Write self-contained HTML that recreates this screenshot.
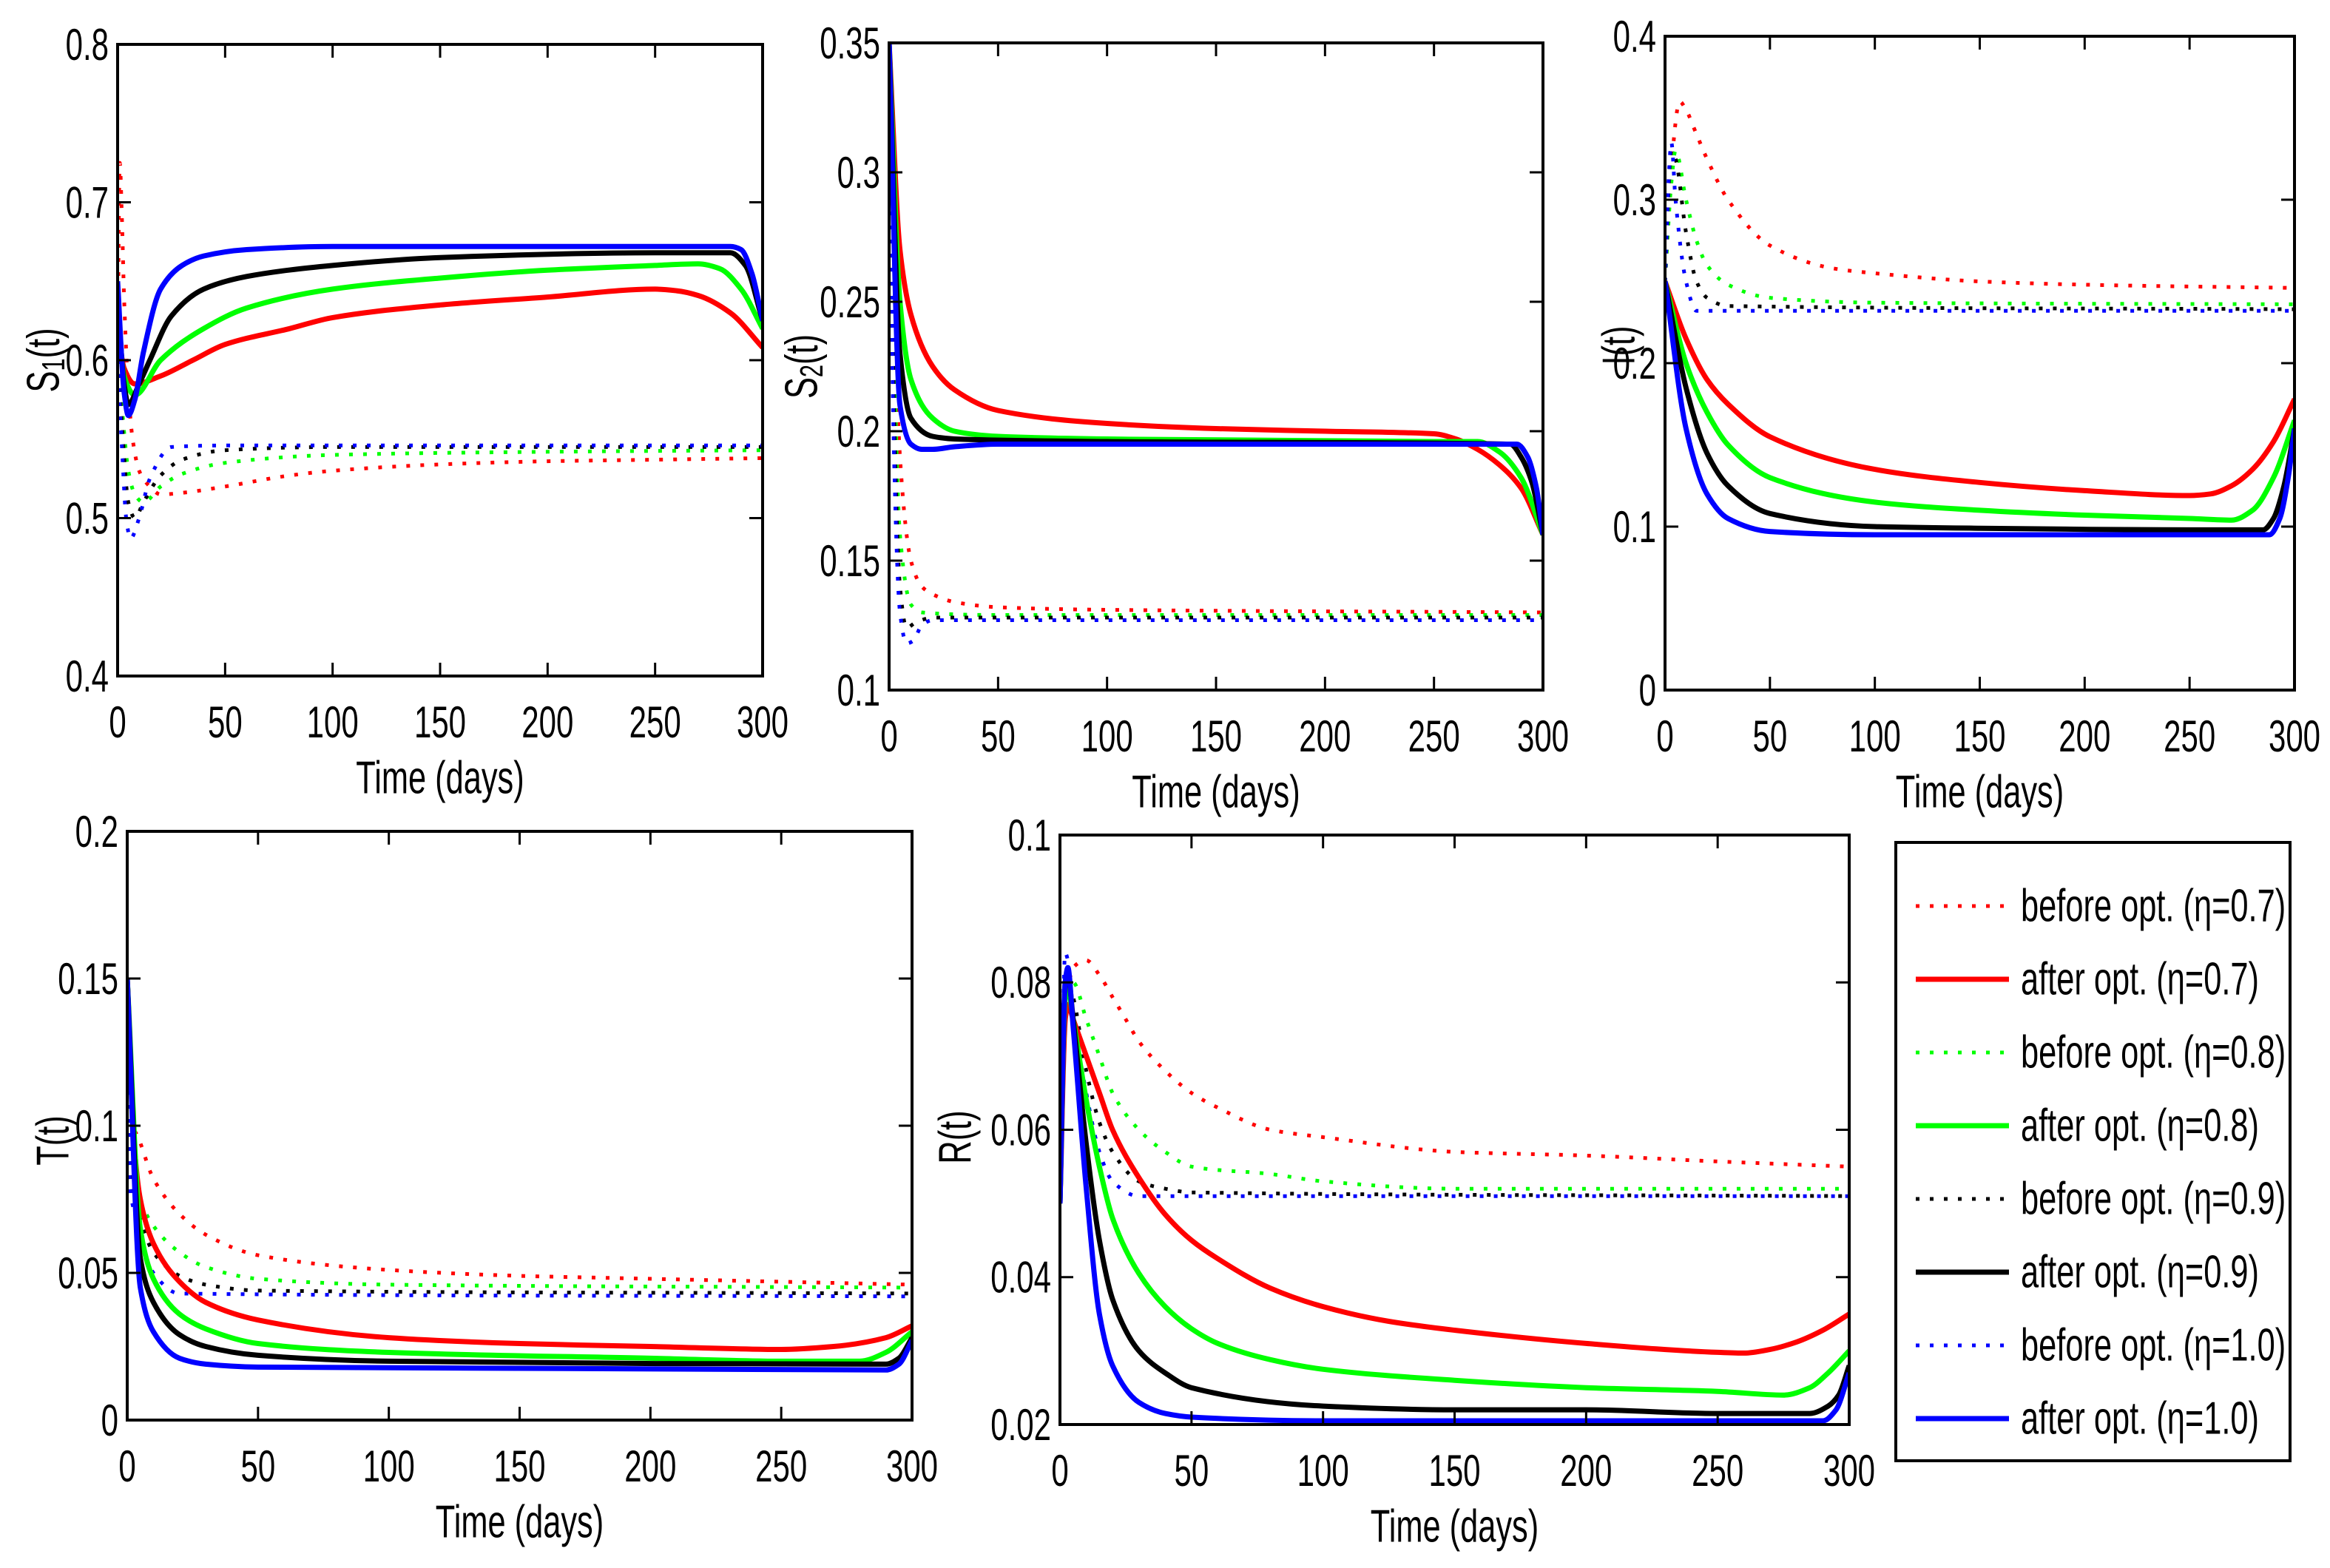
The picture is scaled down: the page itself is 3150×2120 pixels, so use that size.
<!DOCTYPE html>
<html><head><meta charset="utf-8"><style>
html,body{margin:0;padding:0;background:#fff;}
svg{display:block;}
text{font-family:"Liberation Sans",sans-serif;fill:#000;}
</style></head><body>
<svg id="fig" width="3150" height="2120" viewBox="0 0 3150 2120" xmlns="http://www.w3.org/2000/svg">
<rect width="3150" height="2120" fill="#fff"/>
<defs id="defs"></defs>
</svg>
<script>
// ---- data: [time, value] pairs ----
const xTicks=[0,50,100,150,200,250,300];
const s1Ticks=[0.4,0.5,0.6,0.7,0.8];
const s2Ticks=[0.1,0.15,0.2,0.25,0.3,0.35];
const iTicks=[0,0.1,0.2,0.3,0.4];
const tTicks=[0,0.05,0.1,0.15,0.2];
const rTicks=[0.02,0.04,0.06,0.08,0.1];

const s1RedBefore=[[0,0.6],[1,0.725],[2,0.69],[3,0.64],[5,0.58],[7,0.55],[10,0.53],[15,0.52],[20,0.515],[30,0.516],[50,0.52],[80,0.527],[100,0.53],[150,0.534],[200,0.536],[250,0.537],[300,0.538]];
const s1GreenBefore=[[0,0.6],[2,0.57],[5,0.53],[8,0.515],[12,0.51],[20,0.52],[30,0.528],[50,0.535],[100,0.54],[200,0.542],[300,0.543]];
const s1BlackBefore=[[0,0.6],[2,0.56],[5,0.51],[8,0.5],[12,0.51],[20,0.527],[30,0.537],[50,0.543],[100,0.545],[300,0.545]];
const s1BlueBefore=[[0,0.6],[2,0.545],[4,0.5],[6,0.487],[10,0.5],[15,0.525],[25,0.545],[50,0.546],[300,0.546]];
const s1RedAfter=[[0,0.62],[3,0.595],[8,0.585],[20,0.59],[35,0.6],[50,0.61],[80,0.62],[100,0.627],[150,0.635],[200,0.64],[250,0.645],[260,0.644],[270,0.641],[285,0.63],[300,0.608]];
const s1GreenAfter=[[0,0.63],[3,0.59],[8,0.578],[20,0.6],[40,0.62],[60,0.633],[100,0.645],[150,0.652],[200,0.657],[250,0.66],[270,0.661],[280,0.658],[290,0.645],[300,0.62]];
const s1BlackAfter=[[0,0.64],[3,0.585],[5,0.572],[10,0.585],[15,0.6],[25,0.628],[40,0.645],[60,0.653],[100,0.66],[150,0.665],[250,0.668],[285,0.668],[292,0.66],[300,0.625]];
const s1BlueAfter=[[0,0.65],[3,0.58],[5,0.565],[8,0.575],[12,0.605],[20,0.645],[30,0.66],[40,0.666],[60,0.67],[100,0.672],[285,0.672],[290,0.67],[295,0.655],[300,0.625]];

const s2RedBefore=[[0,0.35],[2,0.27],[5,0.19],[10,0.15],[15,0.14],[20,0.137],[30,0.134],[50,0.132],[100,0.131],[300,0.13]];
const s2GreenBefore=[[0,0.35],[2,0.24],[5,0.16],[10,0.133],[15,0.13],[50,0.129],[300,0.129]];
const s2BlackBefore=[[0,0.35],[2,0.22],[5,0.14],[8,0.124],[12,0.126],[20,0.128],[300,0.128]];
const s2BlueBefore=[[0,0.35],[2,0.2],[5,0.13],[8,0.118],[11,0.119],[15,0.125],[20,0.127],[300,0.127]];
const s2RedAfter=[[0,0.35],[5,0.27],[10,0.245],[20,0.225],[30,0.216],[50,0.208],[100,0.203],[150,0.201],[200,0.2],[250,0.199],[260,0.197],[270,0.193],[280,0.187],[290,0.178],[300,0.16]];
const s2GreenAfter=[[0,0.35],[5,0.25],[10,0.22],[20,0.205],[30,0.2],[50,0.198],[100,0.197],[250,0.196],[270,0.196],[280,0.192],[290,0.182],[300,0.16]];
const s2BlackAfter=[[0,0.35],[5,0.23],[10,0.205],[20,0.198],[30,0.197],[100,0.196],[285,0.195],[290,0.19],[295,0.18],[300,0.16]];
const s2BlueAfter=[[0,0.35],[5,0.21],[10,0.195],[15,0.193],[20,0.193],[30,0.194],[50,0.195],[288,0.195],[293,0.19],[297,0.178],[300,0.16]];

const iRedBefore=[[0,0.25],[3,0.32],[7,0.36],[10,0.355],[15,0.34],[20,0.325],[30,0.3],[50,0.272],[80,0.258],[100,0.255],[150,0.25],[200,0.248],[300,0.246]];
const iGreenBefore=[[0,0.25],[3,0.31],[5,0.33],[10,0.3],[15,0.275],[20,0.26],[30,0.248],[50,0.24],[100,0.237],[300,0.236]];
const iBlackBefore=[[0,0.25],[3,0.33],[5,0.325],[10,0.28],[15,0.25],[20,0.24],[30,0.235],[300,0.233]];
const iBlueBefore=[[0,0.25],[2,0.32],[3,0.335],[5,0.3],[10,0.25],[15,0.232],[300,0.232]];
const iRedAfter=[[0,0.25],[10,0.215],[20,0.19],[30,0.175],[50,0.155],[100,0.135],[150,0.127],[200,0.122],[250,0.119],[260,0.12],[270,0.125],[280,0.135],[290,0.152],[300,0.178]];
const iGreenAfter=[[0,0.25],[10,0.2],[20,0.17],[30,0.15],[50,0.13],[100,0.115],[150,0.11],[200,0.107],[250,0.105],[270,0.104],[280,0.11],[290,0.13],[300,0.165]];
const iBlackAfter=[[0,0.25],[10,0.185],[20,0.145],[30,0.125],[50,0.108],[100,0.1],[150,0.099],[250,0.098],[285,0.098],[290,0.105],[295,0.125],[300,0.16]];
const iBlueAfter=[[0,0.25],[10,0.16],[20,0.12],[30,0.105],[50,0.097],[100,0.095],[288,0.095],[293,0.105],[297,0.13],[300,0.16]];

const tRedBefore=[[0,0.15],[1,0.1],[3,0.098],[10,0.082],[20,0.07],[30,0.063],[50,0.056],[100,0.051],[150,0.049],[200,0.048],[300,0.046]];
const tGreenBefore=[[0,0.15],[1,0.09],[3,0.08],[10,0.066],[20,0.057],[30,0.052],[50,0.048],[100,0.046],[300,0.045]];
const tBlackBefore=[[0,0.15],[1,0.085],[3,0.075],[10,0.057],[20,0.049],[30,0.046],[50,0.044],[300,0.043]];
const tBlueBefore=[[0,0.15],[1,0.08],[3,0.07],[10,0.05],[20,0.043],[300,0.042]];
const tRedAfter=[[0,0.15],[3,0.09],[5,0.075],[10,0.06],[20,0.047],[30,0.04],[50,0.034],[100,0.028],[150,0.026],[200,0.025],[250,0.024],[270,0.025],[290,0.028],[300,0.032]];
const tGreenAfter=[[0,0.15],[5,0.065],[10,0.048],[20,0.036],[30,0.031],[50,0.026],[100,0.023],[200,0.021],[250,0.02],[280,0.02],[290,0.023],[300,0.03]];
const tBlackAfter=[[0,0.15],[5,0.055],[10,0.04],[20,0.029],[30,0.025],[50,0.022],[100,0.02],[290,0.019],[295,0.021],[300,0.028]];
const tBlueAfter=[[0,0.15],[5,0.045],[10,0.03],[20,0.021],[30,0.019],[50,0.018],[290,0.017],[295,0.019],[300,0.027]];

const rRedBefore=[[0,0.05],[2,0.075],[5,0.082],[10,0.083],[15,0.081],[20,0.078],[25,0.075],[30,0.072],[40,0.068],[50,0.065],[60,0.063],[80,0.06],[100,0.059],[150,0.057],[200,0.0565],[250,0.0557],[300,0.055]];
const rGreenBefore=[[0,0.05],[2,0.075],[3,0.079],[5,0.08],[10,0.075],[15,0.07],[20,0.065],[30,0.06],[40,0.057],[50,0.055],[80,0.054],[100,0.053],[150,0.052],[300,0.052]];
const rBlackBefore=[[0,0.05],[2,0.077],[3,0.08],[5,0.078],[10,0.068],[15,0.061],[20,0.057],[30,0.053],[40,0.052],[50,0.0515],[300,0.051]];
const rBlueBefore=[[0,0.05],[2,0.084],[3,0.083],[5,0.076],[10,0.065],[15,0.057],[20,0.053],[30,0.051],[300,0.051]];
const rRedAfter=[[0,0.05],[2,0.075],[3,0.077],[5,0.075],[10,0.07],[15,0.065],[20,0.06],[30,0.0535],[40,0.0485],[50,0.045],[60,0.0425],[80,0.0385],[100,0.036],[125,0.034],[150,0.0328],[200,0.031],[250,0.0298],[260,0.0297],[270,0.0302],[280,0.0312],[290,0.0328],[300,0.035]];
const rGreenAfter=[[0,0.05],[2,0.078],[3,0.079],[5,0.075],[10,0.064],[15,0.055],[20,0.048],[30,0.0405],[40,0.036],[50,0.033],[60,0.031],[80,0.0288],[100,0.0275],[150,0.026],[200,0.025],[250,0.0245],[275,0.024],[285,0.025],[292,0.027],[300,0.03]];
const rBlackAfter=[[0,0.05],[2,0.08],[3,0.081],[5,0.075],[10,0.058],[15,0.045],[20,0.037],[30,0.03],[40,0.027],[50,0.025],[100,0.0225],[150,0.022],[200,0.022],[250,0.0215],[285,0.0215],[292,0.0225],[296,0.024],[300,0.028]];
const rBlueAfter=[[0,0.05],[2,0.08],[3,0.082],[5,0.074],[10,0.052],[15,0.035],[20,0.028],[30,0.023],[40,0.0215],[50,0.021],[100,0.0205],[290,0.0205],[295,0.022],[300,0.027]];

const legendLabels=["before opt. (η=0.7)","after opt. (η=0.7)","before opt. (η=0.8)","after opt. (η=0.8)","before opt. (η=0.9)","after opt. (η=0.9)","before opt. (η=1.0)","after opt. (η=1.0)"];

// ---- rendering ----
const NS="http://www.w3.org/2000/svg";
const svg=document.getElementById('fig');
const defs=document.getElementById('defs');
const COLORS={red:"#ff0000",green:"#00ff00",black:"#000000",blue:"#0000ff"};
const SX=0.7;

function mk(tag,attrs,parent){const e=document.createElementNS(NS,tag);for(const k in attrs)e.setAttribute(k,attrs[k]);(parent||svg).appendChild(e);return e;}
function txt(str,x,y,size,anchor,rot,parent){
  const t=mk('text',{x:0,y:0,'font-size':size,'text-anchor':anchor,'dominant-baseline':'central',transform:`translate(${x},${y}) rotate(${rot||0}) scale(${SX},1)`},parent);
  t.textContent=str;return t;
}
function monoPath(pts){
  const n=pts.length;if(n<2)return '';
  const dx=[],m=[],tg=[];
  for(let i=0;i<n-1;i++){dx.push(pts[i+1][0]-pts[i][0]);m.push((pts[i+1][1]-pts[i][1])/(dx[i]||1e-9));}
  tg[0]=m[0];tg[n-1]=m[n-2];
  for(let i=1;i<n-1;i++){ if(m[i-1]*m[i]<=0)tg[i]=0; else {const w1=2*dx[i]+dx[i-1],w2=dx[i]+2*dx[i-1];tg[i]=(w1+w2)/(w1/m[i-1]+w2/m[i]);} }
  let d=`M${pts[0][0].toFixed(1)},${pts[0][1].toFixed(1)}`;
  for(let i=0;i<n-1;i++){const h=dx[i]/3;
    d+=`C${(pts[i][0]+h).toFixed(1)},${(pts[i][1]+tg[i]*h).toFixed(1)} ${(pts[i+1][0]-h).toFixed(1)},${(pts[i+1][1]-tg[i+1]*h).toFixed(1)} ${pts[i+1][0].toFixed(1)},${pts[i+1][1].toFixed(1)}`;}
  return d;
}
let clipId=0;
function panel(cfg){
  const {name,x0,x1,y0,y1,ymin,ymax,yTicks,ylabel,ylabelDx,ylabelDy,series}=cfg;
  const g=mk('g',{});
  
  
  const X=v=>x0+(v-0)/(300-0)*(x1-x0);
  const Y=v=>y1-(v-ymin)/(ymax-ymin)*(y1-y0);
  const cid='clip'+(clipId++);
  const cp=mk('clipPath',{id:cid},defs);mk('rect',{x:x0,y:y0,width:x1-x0,height:y1-y0},cp);
  const plot=mk('g',{'clip-path':`url(#${cid})`},g);
  
  
  series.forEach(s=>{
    const pts=s.data.map(p=>[X(p[0]),Y(p[1])]);
    const p=mk('path',{d:monoPath(pts),fill:'none',stroke:COLORS[s.color],'stroke-width':s.dotted?5:7,'stroke-dasharray':s.dotted?'5 14':'none','stroke-linejoin':'round'},plot);
    
    
  });
  const box=mk('rect',{x:x0,y:y0,width:x1-x0,height:y1-y0,fill:'none',stroke:'#000','stroke-width':4},g);
  
  
  const tl=18;
  xTicks.forEach(v=>{const x=X(v);
    mk('line',{x1:x,x2:x,y1:y1,y2:y1-tl,stroke:'#000','stroke-width':3},g);
    mk('line',{x1:x,x2:x,y1:y0,y2:y0+tl,stroke:'#000','stroke-width':3},g);
    const t=txt(String(v),x,y1+62,60,'middle',0,g);
    
    
  });
  yTicks.forEach(v=>{const y=Y(v);
    mk('line',{x1:x0,x2:x0+tl,y1:y,y2:y,stroke:'#000','stroke-width':3},g);
    mk('line',{x1:x1,x2:x1-tl,y1:y,y2:y,stroke:'#000','stroke-width':3},g);
    const t=txt(String(v),x0-12,y,60,'end',0,g);
    
    
  });
  const xl=txt('Time (days)',(x0+x1)/2,y1+138,62,'middle',0,g);
  
  
  const yl=txt('',x0-ylabelDx,(y0+y1)/2+(ylabelDy||0),62,'middle',-90,g);
  
  
  if(ylabel.sub){
    yl.appendChild(document.createTextNode(ylabel.main));
    const ts=mk('tspan',{'font-size':44,dy:14},yl);ts.textContent=ylabel.sub;
    const ts2=mk('tspan',{dy:-14},yl);ts2.textContent=ylabel.rest;
  } else yl.textContent=ylabel.main;
}
function S(r,g,k,b,R,G,K,B){return [
 {data:r,color:'red',dotted:true},{data:g,color:'green',dotted:true},{data:k,color:'black',dotted:true},{data:b,color:'blue',dotted:true},
 {data:R,color:'red'},{data:G,color:'green'},{data:K,color:'black'},{data:B,color:'blue'}];}

panel({name:'s1',x0:159,x1:1031,y0:60,y1:914,ymin:0.4,ymax:0.8,yTicks:s1Ticks,ylabel:{main:'S',sub:'1',rest:'(t)'},ylabelDx:100,
 series:S(s1RedBefore,s1GreenBefore,s1BlackBefore,s1BlueBefore,s1RedAfter,s1GreenAfter,s1BlackAfter,s1BlueAfter)});
panel({name:'s2',x0:1202,x1:2086,y0:58,y1:933,ymin:0.1,ymax:0.35,yTicks:s2Ticks,ylabel:{main:'S',sub:'2',rest:'(t)'},ylabelDx:118,
 series:S(s2RedBefore,s2GreenBefore,s2BlackBefore,s2BlueBefore,s2RedAfter,s2GreenAfter,s2BlackAfter,s2BlueAfter)});
panel({name:'i',x0:2251,x1:3102,y0:49,y1:933,ymin:0,ymax:0.4,yTicks:iTicks,ylabel:{main:'I(t)'},ylabelDx:62,ylabelDy:-24,
 series:S(iRedBefore,iGreenBefore,iBlackBefore,iBlueBefore,iRedAfter,iGreenAfter,iBlackAfter,iBlueAfter)});
panel({name:'t',x0:172,x1:1233,y0:1124,y1:1920,ymin:0,ymax:0.2,yTicks:tTicks,ylabel:{main:'T(t)'},ylabelDx:100,ylabelDy:20,
 series:S(tRedBefore,tGreenBefore,tBlackBefore,tBlueBefore,tRedAfter,tGreenAfter,tBlackAfter,tBlueAfter)});
panel({name:'r',x0:1433,x1:2500,y0:1129,y1:1926,ymin:0.02,ymax:0.1,yTicks:rTicks,ylabel:{main:'R(t)'},ylabelDx:141,ylabelDy:10,
 series:S(rRedBefore,rGreenBefore,rBlackBefore,rBlueBefore,rRedAfter,rGreenAfter,rBlackAfter,rBlueAfter)});

// legend
const lg=mk('g',{});


mk('rect',{x:2563,y:1139,width:533,height:836,fill:'#fff',stroke:'#000','stroke-width':4},lg);
const legColors=['red','red','green','green','black','black','blue','blue'];
legendLabels.forEach((lab,i)=>{
  const y=1225+i*99;const dotted=i%2===0;
  const e=mk('g',{},lg);
  
  
  mk('line',{x1:2590,x2:2716,y1:y,y2:y,stroke:COLORS[legColors[i]],'stroke-width':dotted?5:7,'stroke-dasharray':dotted?'5 14':'none'},e);
  txt(lab,2732,y,62,'start',0,e);
});
</script>
</body></html>
